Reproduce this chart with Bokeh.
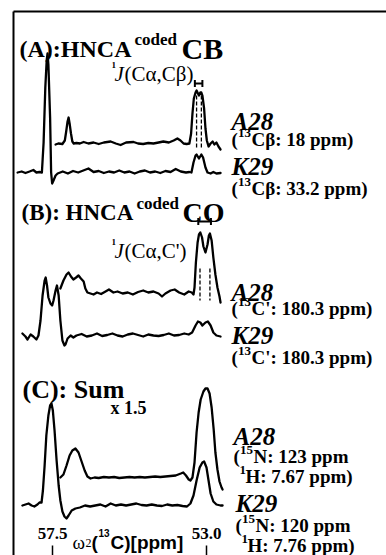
import numpy as np
from bokeh.plotting import figure
from bokeh.models import Range1d, Label
from bokeh.core.properties import value
from bokeh.embed import file_html
from bokeh.resources import INLINE

# ---------------- data ----------------
# omega2(13C) chemical shift [ppm] and intensity (arbitrary units, baseline = 0)
ppm_ticks = [57.5, 53.0]
ppm_tick_labels = ["57.5", "53.0"]

# (A) HNCA-coded-CB
a_k29_ppm = [58.52, 58.40, 58.29, 58.17, 58.06, 57.97, 57.88, 57.81, 57.76, 57.71,
             57.67, 57.645, 57.62, 57.57, 57.54, 57.51, 57.47, 57.41, 57.35, 57.20,
             57.05, 56.90, 56.75, 56.60, 56.45, 56.30, 56.15, 56.00, 55.85, 55.70,
             55.55, 55.40, 55.25, 55.10, 54.95, 54.80, 54.65, 54.50, 54.35, 54.20,
             54.05, 53.90, 53.75, 53.60, 53.50, 53.44, 53.38, 53.32, 53.29, 53.22,
             53.15, 53.10, 53.03, 52.97, 52.88, 52.80, 52.71, 52.59]
a_k29_int = [0, 1, -0.5, 1, 2.5, 0, 0.5, 0, 30, 85,
             112, 119, 108, 55, 0, -11, -8, -3, -1, 1,
             -1, 1.5, 0, 2, 4, 0.5, 1.5, -0.5, 1, 0,
             2, 0, 1, -1, 1, 2, 0, 1, -0.5, 1.5,
             0.5, 3.5, 1, 0, 0.5, 0, 10, 17, 18, 14,
             18, 15, 5, 0, -1, 0.5, -1, -0.5]
a_a28_ppm = [57.41, 57.33, 57.21, 57.14, 57.10, 57.06, 57.03, 57.00, 56.96, 56.92,
             56.88, 56.80, 56.70, 56.59, 56.45, 56.30, 56.15, 56.00, 55.80, 55.65,
             55.51, 55.35, 55.13, 55.00, 54.85, 54.70, 54.55, 54.40, 54.26, 54.10,
             53.96, 53.85, 53.76, 53.67, 53.58, 53.50, 53.45, 53.41, 53.37, 53.32,
             53.29, 53.25, 53.22, 53.18, 53.15, 53.12, 53.07, 53.03, 52.99, 52.94,
             52.88, 52.82, 52.77, 52.71, 52.65, 52.59]
a_a28_int = [-1, 0, -0.5, 3, 12, 22, 26, 20, 10, 2,
             0, 0.5, 0, 1.5, 0, 1, -0.5, 1, 2, 0,
             -1.5, 1, 1.5, 0, -0.5, 0.5, 0, 1, 2, 1,
             3, 5, 3, 0, -0.5, 0, 10, 30, 45, 51,
             53, 50, 48, 51, 51, 48, 35, 15, 3, -3,
             0, 2, -1, 1, -3, -6]

# (B) HNCA-coded-CO
b_k29_ppm = [58.38, 58.29, 58.23, 58.14, 58.06, 57.97, 57.91, 57.85, 57.79, 57.73,
             57.70, 57.66, 57.62, 57.56, 57.51, 57.47, 57.41, 57.37, 57.32, 57.27,
             57.21, 57.15, 57.12, 57.06, 56.97, 56.89, 56.80, 56.65, 56.50, 56.35,
             56.20, 56.05, 55.90, 55.75, 55.60, 55.45, 55.30, 55.15, 55.00, 54.85,
             54.70, 54.55, 54.40, 54.25, 54.10, 53.95, 53.80, 53.65, 53.52, 53.42,
             53.32, 53.25, 53.18, 53.12, 53.03, 52.96, 52.88, 52.80, 52.71, 52.59]
b_k29_int = [2, -1, -4, 1, -1, -4, 0, 15, 40, 55,
             58, 50, 38, 32, 30, 35, 45, 50, 40, 15,
             -5, -10, -9, -3, 0, -2, 0, 1.5, -1, 0,
             2, -0.5, 0.5, 2, 0, -1, 1, 2, 0.5, -1,
             1, 0, -0.5, 0.5, 2, 0, 0.5, 2, 1, 3,
             10, 14, 13, 10, 13, 14, 10, 3, 0, -1]
b_a28_ppm = [57.27, 57.18, 57.09, 57.03, 56.96, 56.89, 56.81, 56.74, 56.67, 56.59,
             56.54, 56.48, 56.39, 56.30, 56.20, 56.08, 55.95, 55.85, 55.72, 55.60,
             55.45, 55.30, 55.15, 55.00, 54.85, 54.70, 54.55, 54.40, 54.30, 54.20,
             54.05, 53.93, 53.80, 53.65, 53.52, 53.43, 53.38, 53.35, 53.31, 53.26,
             53.22, 53.18, 53.13, 53.09, 53.03, 52.97, 52.93, 52.90, 52.85, 52.80,
             52.74, 52.68, 52.62, 52.59]
b_a28_int = [4, 12, 18, 20, 16, 13, 15, 17, 14, 11,
             4, 0, -1, -2, 0, -1.5, 1, 3, 0, 1,
             -1, 0, -2, 0.5, 2, 0, 1, -1, -4, -1,
             2, 3, 0, -2, 1, 0, -2, 5, 30, 50,
             58, 60, 55, 46, 40, 48, 57, 59, 52, 35,
             18, 5, -4, -10]

# (C) Sum (A28 trace x 1.5)
c_k29_ppm = [58.38, 58.29, 58.20, 58.11, 58.03, 57.94, 57.88, 57.82, 57.78, 57.73,
             57.68, 57.62, 57.57, 57.53, 57.49, 57.44, 57.38, 57.32, 57.27, 57.21,
             57.15, 57.09, 57.03, 56.94, 56.83, 56.70, 56.55, 56.40, 56.25, 56.10,
             55.95, 55.80, 55.65, 55.50, 55.35, 55.20, 55.05, 54.90, 54.75, 54.60,
             54.45, 54.30, 54.15, 54.00, 53.85, 53.70, 53.57, 53.47, 53.38, 53.29,
             53.20, 53.12, 53.07, 53.00, 52.94, 52.88, 52.80, 52.71, 52.59, 52.53]
c_k29_int = [0, 1, 2, 0, -1, 1, 3, 3, 15, 40,
             70, 90, 100, 102, 95, 75, 45, 20, 5, -6,
             -11, -13, -10, -5, -3, -2, 0, -1, 0, 1,
             -1, 2, 0, 1, 0, 1, 2, 0.5, 0, 1,
             0, -0.5, 1, 0, 0.5, -0.5, -1, 2, 10, 25,
             38, 43, 44, 38, 25, 12, 4, 1, 0, 0]
c_a28_ppm = [57.27, 57.18, 57.09, 57.00, 56.92, 56.83, 56.74, 56.65, 56.56, 56.48,
             56.39, 56.27, 56.15, 56.00, 55.85, 55.70, 55.55, 55.40, 55.25, 55.10,
             54.95, 54.80, 54.65, 54.50, 54.35, 54.20, 54.05, 53.90, 53.75, 53.68,
             53.60, 53.52, 53.47, 53.41, 53.35, 53.29, 53.23, 53.17, 53.09, 53.03,
             52.97, 52.91, 52.85, 52.79, 52.74, 52.68, 52.62, 52.56, 52.53]
c_a28_int = [0, 3, 12, 22, 27, 29, 25, 16, 7, 1,
             -1, 0, -0.5, 0.5, 0, 0.5, -0.5, 0, 0.5, 0,
             0.5, 0, 0.5, 1, 0.5, 1, 1.5, 2, 4, 5,
             2, -2, -3, 0, 15, 45, 65, 78, 86, 89,
             89, 84, 70, 48, 25, 8, -4, -10, -12]

# doublet (J coupling) positions
jcb_ppm = [53.29, 53.15]
jco_ppm = [53.19, 52.90]

# ---------------- layout ----------------
W, H = 386, 555
PX_PER_PPM = 154 / 4.5
SERIF = "Liberation Serif"
SANS = "Liberation Sans"


def X(px):
    return 57.5 - (px - 52) / PX_PER_PPM


def Y(py):
    return H - py


p = figure(width=W, height=H, output_backend="svg", toolbar_location=None,
           x_range=Range1d(X(0), X(W)), y_range=Range1d(0, H),
           x_axis_type=None, y_axis_type=None, min_border=0)
p.outline_line_color = None
p.grid.visible = False
p.background_fill_color = "white"

# frame (top and left borders)
p.line([X(13), X(W)], [Y(11), Y(11)], line_color="black", line_width=2)
p.line([X(13), X(13)], [Y(11), Y(H)], line_color="black", line_width=2)

traces = [
    (a_k29_ppm, a_k29_int, 172),
    (a_a28_ppm, a_a28_int, 143),
    (b_k29_ppm, b_k29_int, 335),
    (b_a28_ppm, b_a28_int, 292),
    (c_k29_ppm, c_k29_int, 505),
    (c_a28_ppm, c_a28_int, 477),
]
for xs, ys, base in traces:
    p.line(xs, np.array(ys, dtype=float) + Y(base), line_color="black",
           line_width=2.3, line_join="round", line_cap="round")

# dashed markers through the doublets
p.segment(x0=jcb_ppm, y0=[Y(95)] * 2, x1=jcb_ppm, y1=[Y(147)] * 2,
          line_color="black", line_width=1.3, line_dash="4 2")
p.segment(x0=jco_ppm, y0=[Y(268)] * 2, x1=jco_ppm, y1=[Y(300)] * 2,
          line_color="black", line_width=1.3, line_dash="4 2")

# J brackets
for dbl, py in ((jcb_ppm, 83), (jco_ppm, 221)):
    xa, xb = dbl[0] + 0.05, dbl[1] - 0.03
    p.line([xa, xb], [Y(py), Y(py)], line_color="black", line_width=2)
    p.segment(x0=[xa, xb], y0=[Y(py - 3.5)] * 2, x1=[xa, xb], y1=[Y(py + 3.5)] * 2,
              line_color="black", line_width=2)

# bottom ticks and labels
p.segment(x0=ppm_ticks, y0=[Y(545)] * 2, x1=ppm_ticks, y1=[Y(555)] * 2,
          line_color="black", line_width=1.5)
p.text(x=ppm_ticks, y=[Y(533)] * 2, text=ppm_tick_labels, text_align="center",
       text_baseline="alphabetic", text_font=value(SERIF), text_font_style="bold",
       text_font_size="17px", text_color="black")


def lab(px, py, text, size, style="bold", font=SERIF):
    p.add_layout(Label(x=X(px), y=Y(py), text=text, text_font=font,
                       text_font_size=f"{size}px", text_font_style=style,
                       text_color="black", text_baseline="alphabetic",
                       text_align="left"))


def paren_label(px, py, sup, rest, s=19):
    lab(px, py, "(", s)
    x1 = px + 0.34 * s
    ss = round(0.68 * s)
    lab(x1, py - 0.36 * s, sup, ss)
    lab(x1 + len(sup) * 0.5 * ss + 0.5, py, rest, s)


# titles
lab(19, 48, "(A):HNCA", 24)
lab(134, 39, "coded", 17)
lab(181, 48, "CB", 30)
lab(21, 212, "(B): HNCA", 23)
lab(136, 203, "coded", 17)
lab(182, 212, "CO", 28)
lab(22, 389, "(C): Sum", 26)
lab(110, 407, "x 1.5", 18)

# coupling labels
lab(111, 64, "1", 9)
lab(114, 73, "J", 21, "italic")
lab(124, 73, "(Cα,Cβ)", 21, "normal")
lab(111, 241, "1", 9)
lab(114, 250, "J", 21, "italic")
lab(124, 250, "(Cα,C')", 21, "normal")

# residue labels
lab(231, 121, "A28", 25, "bold italic")
paren_label(231, 139, "13", "Cβ: 18 ppm)")
lab(231, 166, "K29", 25, "bold italic")
paren_label(231, 188, "13", "Cβ: 33.2 ppm)")

lab(231, 292, "A28", 25, "bold italic")
paren_label(231, 308, "13", "C': 180.3 ppm)")
lab(231, 335, "K29", 25, "bold italic")
paren_label(231, 357, "13", "C': 180.3 ppm)")

lab(233, 436, "A28", 25, "bold italic")
paren_label(233, 456, "15", "N: 123 ppm")
lab(239, 469, "1", 13)
lab(245, 476, "H: 7.67 ppm)", 19)
lab(235, 503, "K29", 25, "bold italic")
paren_label(235, 525, "15", "N: 120 ppm")
lab(241, 538, "1", 13)
lab(247, 545, "H: 7.76 ppm)", 19)

# axis title
lab(72, 542, "ω", 19, "normal")
lab(85, 542, "2", 12, "normal")
lab(91, 542, "(", 19, "bold", SANS)
lab(98, 532, "13", 10, "bold", SANS)
lab(110, 542, "C)[ppm]", 19, "bold", SANS)

open("out.html", "w").write(file_html(p, INLINE))
